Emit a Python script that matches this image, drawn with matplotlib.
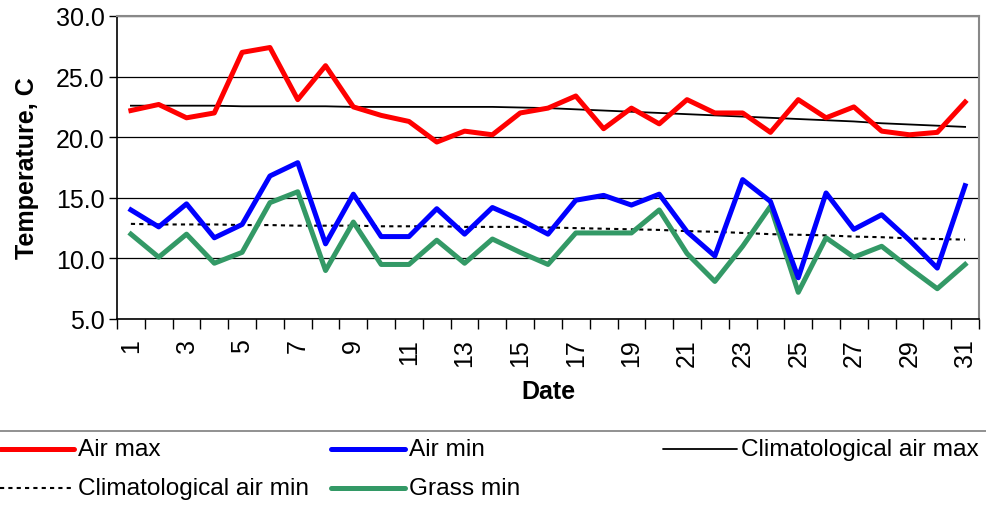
import numpy as np
import matplotlib
matplotlib.use('Agg')
import matplotlib.pyplot as plt
from matplotlib.lines import Line2D

plt.rcParams['font.family'] = ['Liberation Sans', 'DejaVu Sans']

# ---------------- data ----------------
days = list(range(1, 32))
air_max = [22.2, 22.7, 21.6, 22.0, 27.0, 27.4, 23.1, 25.9, 22.5, 21.8, 21.3, 19.6, 20.5, 20.2, 22.0, 22.4,
           23.4, 20.7, 22.4, 21.1, 23.1, 22.0, 22.0, 20.4, 23.1, 21.6, 22.5, 20.5, 20.2, 20.4, 22.9]
air_min = [14.0, 12.6, 14.5, 11.7, 12.8, 16.8, 17.9, 11.2, 15.3, 11.8, 11.8, 14.1, 12.0, 14.2, 13.2, 12.0,
           14.8, 15.2, 14.4, 15.3, 12.2, 10.2, 16.5, 14.7, 8.4, 15.4, 12.4, 13.6, 11.5, 9.2, 16.0]
grass_min = [12.0, 10.1, 12.0, 9.6, 10.5, 14.6, 15.5, 9.0, 13.0, 9.5, 9.5, 11.5, 9.6, 11.6, 10.5, 9.5,
             12.1, 12.1, 12.1, 14.0, 10.4, 8.1, 11.0, 14.3, 7.2, 11.7, 10.1, 11.0, 9.2, 7.5, 9.5]
clim_max = [22.6, 22.6, 22.6, 22.6, 22.55, 22.55, 22.55, 22.55, 22.5, 22.5, 22.5, 22.5, 22.5, 22.5, 22.45, 22.4,
            22.3, 22.2, 22.1, 22.0, 21.9, 21.8, 21.7, 21.6, 21.5, 21.4, 21.3, 21.15, 21.05, 20.95, 20.85]
clim_min = [12.85, 12.8, 12.8, 12.8, 12.75, 12.75, 12.7, 12.7, 12.7, 12.65, 12.65, 12.65, 12.6, 12.6, 12.6, 12.55,
            12.5, 12.45, 12.4, 12.35, 12.25, 12.2, 12.1, 12.0, 11.95, 11.9, 11.8, 11.75, 11.65, 11.6, 11.55]

RED = '#FF0000'
BLUE = '#0000FF'
GREEN = '#339966'
DOT = (0, (2, 2))

W, H = 986, 506
fig = plt.figure(figsize=(W / 100, H / 100), dpi=100)
ax = fig.add_axes([117 / W, (H - 320) / H, (979 - 117) / W, (320 - 17) / H])

ax.plot(days, clim_max, color='black', lw=1.3, zorder=3)
ax.plot(days, clim_min, color='black', lw=1.5, ls=DOT, zorder=3)
ax.plot(days, air_max, color=RED, lw=3.6, zorder=4, solid_joinstyle='round')
ax.plot(days, grass_min, color=GREEN, lw=3.6, zorder=4, solid_joinstyle='round')
ax.plot(days, air_min, color=BLUE, lw=3.6, zorder=5, solid_joinstyle='round')

ax.set_xlim(0.5, 31.5)
ax.set_ylim(5, 30)
ax.set_yticks(np.arange(5, 30.1, 5))
ax.set_yticklabels([f'{v:.1f}' for v in np.arange(5, 30.1, 5)], fontsize=18)
ax.yaxis.grid(True, color='black', lw=0.9)
ax.set_axisbelow(True)

ax.set_xticks(days)
ax.set_xticklabels([str(d) if d % 2 == 1 else '' for d in days], rotation=90, fontsize=18)
ax.set_xticks(np.arange(0.5, 31.6, 1), minor=True)
ax.tick_params(axis='x', which='major', length=0, pad=14)
ax.tick_params(axis='x', which='minor', length=7, width=1, color='black')
ax.tick_params(axis='y', length=6, width=1, pad=3)

for s in ['top', 'right']:
    ax.spines[s].set_color('#888888')
    ax.spines[s].set_linewidth(1.5)
for s in ['left', 'bottom']:
    ax.spines[s].set_color('black')
    ax.spines[s].set_linewidth(1.2)

ax.set_xlabel('Date', fontsize=18, fontweight='bold', labelpad=9)
ax.set_ylabel('Temperature, C', fontsize=18, fontweight='bold', labelpad=12)

# ---------------- legend (below, with separator) ----------------
fig.add_artist(Line2D([0, 1], [(H - 432) / H] * 2, transform=fig.transFigure, color='#888888', lw=1.3))

entries = [
    ('Air max', dict(color=RED, lw=3.6), 0, 450),
    ('Air min', dict(color=BLUE, lw=3.6), 331, 450),
    ('Climatological air max', dict(color='black', lw=1.3), 663, 450),
    ('Climatological air min', dict(color='black', lw=1.5, ls=DOT), 0, 489),
    ('Grass min', dict(color=GREEN, lw=3.6), 331, 489),
]
for label, style, x0, yc in entries:
    fig.add_artist(Line2D([x0 / W, (x0 + 74) / W], [(H - yc) / H] * 2,
                          transform=fig.transFigure, solid_capstyle='round', **style))
    fig.text((x0 + 78) / W, (H - yc) / H, label, fontsize=17.6, va='center', ha='left')

fig.savefig('out.png', dpi=100)
